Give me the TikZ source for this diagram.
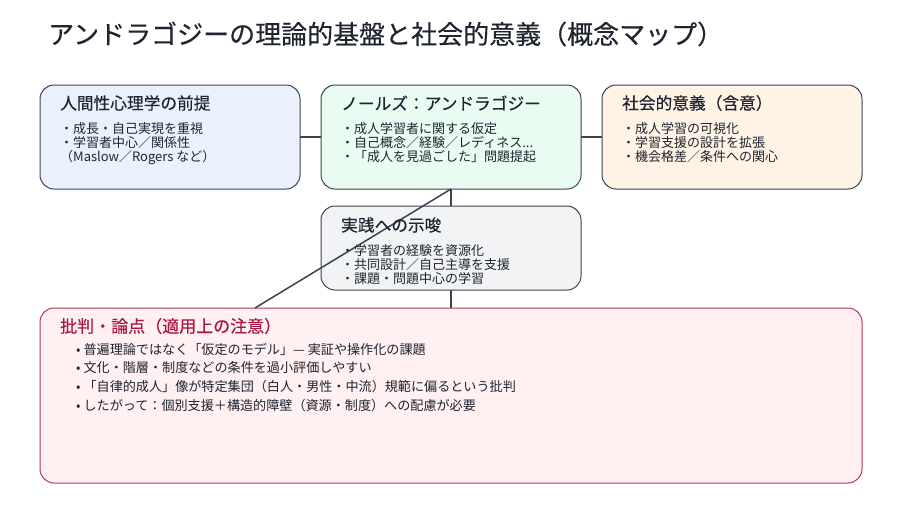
\documentclass[tikz,border=0pt]{standalone}
\usepackage{fontspec}
\setmainfont{Noto Sans CJK JP}
\newfontfamily\headfont{Noto Sans CJK JP}[FakeBold=0.35]
\usetikzlibrary{positioning}
\definecolor{inkgray}{HTML}{1F2430}
\definecolor{edgegray}{HTML}{3B4351}
\definecolor{humfill}{HTML}{EAF1FD}
\definecolor{knowfill}{HTML}{E9FCF2}
\definecolor{socfill}{HTML}{FEF3E5}
\definecolor{pracfill}{HTML}{F2F3F5}
\definecolor{critfill}{HTML}{FFF0F1}
\definecolor{critred}{HTML}{A8173F}
\definecolor{critedge}{HTML}{B5365C}
\tikzset{
  box/.style={draw=edgegray, line width=1pt, rounded corners=14pt,
    minimum width=260pt, minimum height=104pt, inner sep=0pt, outer sep=0pt},
  ttl/.style={anchor=west, inner sep=0pt, text=inkgray,
    font=\headfont\fontsize{16.7}{20}\selectfont},
  pts/.style={anchor=north west, inner sep=0pt, align=left, text=inkgray,
    font=\fontsize{13}{14}\selectfont},
  link/.style={draw=edgegray, line width=1.5pt},
}

\begin{document}
\begin{tikzpicture}[x=1pt,y=-1pt]
		\useasboundingbox (0,0) rectangle (902,507);
		\node[anchor=west, inner sep=0pt, text=inkgray, font=\headfont\fontsize{26}{30}\selectfont] (title) at (48,34) {アンドラゴジーの理論的基盤と社会的意義（概念マップ）};
		% boxes
		\node[box, fill=humfill, anchor=north west] (Hum) at (40,85) {};
		\node[box, fill=knowfill, right=21pt of Hum] (Know) {};
		\node[box, fill=socfill, right=21pt of Know] (Soc) {};
		\node[box, fill=pracfill, minimum height=84pt, below=17pt of Know] (Prac) {};
		\node[box, draw=critedge, fill=critfill, minimum width=822pt, minimum height=175pt, anchor=north west] (Crit) at (40,308) {};
		\coordinate (critL) at (255,308);
		% links
		\draw[link] (Hum) -- (Know);
		\draw[link] (Know) -- (Soc);
		\draw[link] (Know) -- (Prac);
		\draw[link] (Prac) -- (Crit);
		\draw[link] (Know.south) -- (critL);
		% texts
		\node[ttl] (humT) at (60,103) {人間性心理学の前提};
		\node[pts] (humP) at (60,122.5) {・成長・自己実現を重視\\・学習者中心／関係性\\（Maslow／Rogers など）};
		\node[ttl] (knowT) at (341,103) {ノールズ：アンドラゴジー};
		\node[pts] (knowP) at (341,122.5) {・成人学習者に関する仮定\\・自己概念／経験／レディネス...\\・「成人を見過ごした」問題提起};
		\node[ttl] (socT) at (622,103) {社会的意義（含意）};
		\node[pts] (socP) at (622,122.5) {・成人学習の可視化\\・学習支援の設計を拡張\\・機会格差／条件への関心};
		\node[ttl] (pracT) at (341,225) {実践への示唆};
		\node[pts] (pracP) at (341,244.5) {・学習者の経験を資源化\\・共同設計／自己主導を支援\\・課題・問題中心の学習};
		\node[ttl, text=critred, font=\headfont\fontsize{17}{20}\selectfont] (critT) at (60,326) {批判・論点（適用上の注意）};
		\node[pts, font=\fontsize{13.1}{18.6}\selectfont] (critP) at (76,343) {• 普遍理論ではなく「仮定のモデル」— 実証や操作化の課題\\• 文化・階層・制度などの条件を過小評価しやすい\\• 「自律的成人」像が特定集団（白人・男性・中流）規範に偏るという批判\\• したがって：個別支援＋構造的障壁（資源・制度）への配慮が必要};
	\end{tikzpicture}
\end{document}
